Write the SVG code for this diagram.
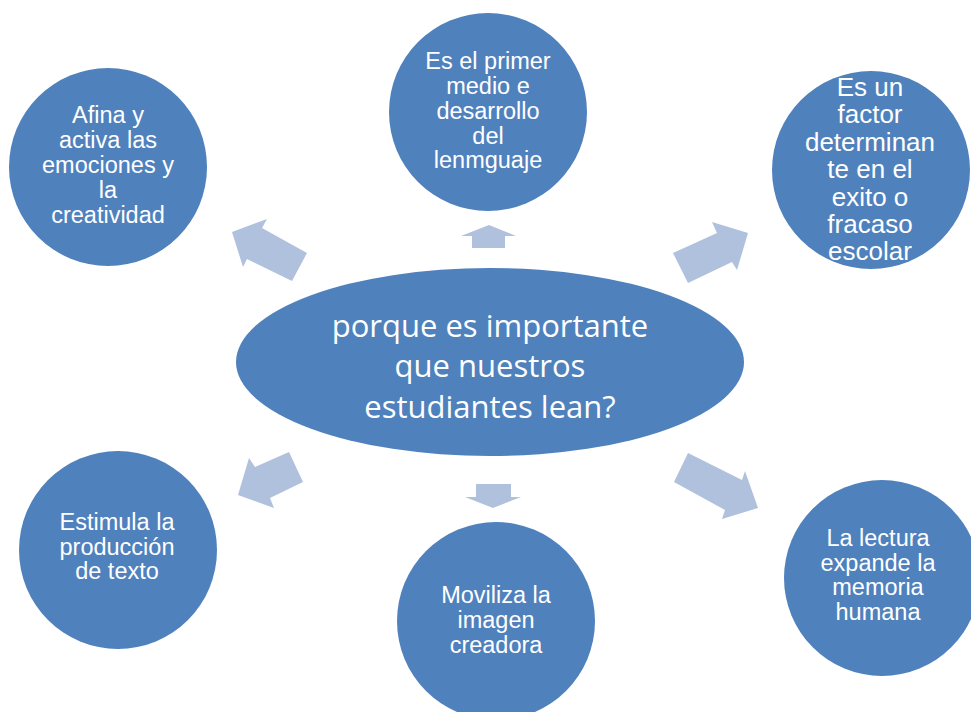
<svg xmlns="http://www.w3.org/2000/svg" width="971" height="712" viewBox="0 0 971 712">
<style>
.node{fill:#4F81BD;}
.arrow{fill:#B0C1DD;}
.t{font-family:"Liberation Sans",Arial,sans-serif;fill:#FFFFFF;text-anchor:middle;}
.c{font-family:"Open Sans","Noto Sans",sans-serif;fill:#FFFFFF;text-anchor:middle;font-size:31px;}
</style>
<rect width="971" height="712" fill="#FFFFFF"/>
<g id="connectors">
<polygon class="arrow" points="232,232 267,219 262,228 307,253 292,281 247,259 243,267"/>
<polygon class="arrow" points="489,225 516,236 505,236 505,248 472,248 472,236 461,236"/>
<polygon class="arrow" points="748,233 737,270 732,262 688,283 673,253 717,233 712,222"/>
<polygon class="arrow" points="238,495 249,458 255,467 289,452 303,482 270,498 274,508"/>
<polygon class="arrow" points="476,484 511,484 511,497 521,497 493,508 465,497 476,497"/>
<polygon class="arrow" points="688,453 742,480 745,471 758,508 722,519 725,510 674,482"/>
</g>
<g id="center">
<ellipse class="node" cx="490" cy="362" rx="254" ry="94"/>
<text class="c" x="490" y="337">porque es importante</text>
<text class="c" x="490" y="377">que nuestros</text>
<text class="c" x="490" y="418">estudiantes lean?</text>
</g>
<g id="n-afina">
<circle class="node" cx="108" cy="167" r="99"/>
<text class="t" font-size="23.5" x="108" y="123">Afina y</text>
<text class="t" font-size="23.5" x="108" y="148">activa las</text>
<text class="t" font-size="23.5" x="108" y="173">emociones y</text>
<text class="t" font-size="23.5" x="108" y="198">la</text>
<text class="t" font-size="23.5" x="108" y="223">creatividad</text>
</g>
<g id="n-primer">
<circle class="node" cx="488" cy="112" r="99"/>
<text class="t" font-size="23.5" x="488" y="69">Es el primer</text>
<text class="t" font-size="23.5" x="488" y="94">medio e</text>
<text class="t" font-size="23.5" x="488" y="119">desarrollo</text>
<text class="t" font-size="23.5" x="488" y="144">del</text>
<text class="t" font-size="23.5" x="488" y="168">lenmguaje</text>
</g>
<g id="n-factor">
<circle class="node" cx="871" cy="170" r="99"/>
<text class="t" font-size="26" x="870" y="96">Es un</text>
<text class="t" font-size="26" x="870" y="123">factor</text>
<text class="t" font-size="26" x="870" y="151">determinan</text>
<text class="t" font-size="26" x="870" y="178">te en el</text>
<text class="t" font-size="26" x="870" y="206">exito o</text>
<text class="t" font-size="26" x="870" y="233">fracaso</text>
<text class="t" font-size="26" x="870" y="260">escolar</text>
</g>
<g id="n-estimula">
<circle class="node" cx="118" cy="550" r="99"/>
<text class="t" font-size="23.5" x="117" y="530">Estimula la</text>
<text class="t" font-size="23.5" x="117" y="555">producción</text>
<text class="t" font-size="23.5" x="117" y="579">de texto</text>
</g>
<g id="n-moviliza">
<circle class="node" cx="496" cy="621" r="99"/>
<text class="t" font-size="23.5" x="496" y="603">Moviliza la</text>
<text class="t" font-size="23.5" x="496" y="628">imagen</text>
<text class="t" font-size="23.5" x="496" y="653">creadora</text>
</g>
<g id="n-lectura">
<circle class="node" cx="882" cy="578" r="98"/>
<text class="t" font-size="23.5" x="878" y="546">La lectura</text>
<text class="t" font-size="23.5" x="878" y="571">expande la</text>
<text class="t" font-size="23.5" x="878" y="595">memoria</text>
<text class="t" font-size="23.5" x="878" y="620">humana</text>
</g>
</svg>
